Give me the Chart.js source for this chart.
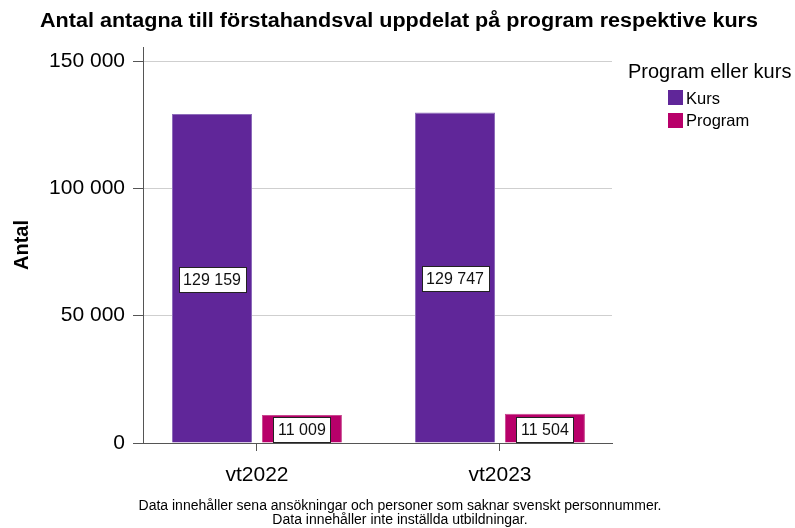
<!DOCTYPE html>
<html>
<head>
<meta charset="utf-8">
<script src="https://cdn.jsdelivr.net/npm/chart.js@4"></script>
<style>
  body { margin: 0; background: #fff; }
  #wrap { width: 795px; height: 528px; position: relative; }
</style>
</head>
<body>
<div id="wrap"><canvas id="myChart" width="795" height="528"></canvas></div>
<script>
const terminer = ['vt2022', 'vt2023'];
const kurs = [129159, 129747];
const program = [11009, 11504];
const yTicks = [0, 50000, 100000, 150000];

const titel = 'Antal antagna till förstahandsval uppdelat på program respektive kurs';
const fotnot = [
    'Data innehåller sena ansökningar och personer som saknar svenskt personnummer.',
    'Data innehåller inte inställda utbildningar.'
];
const legendTitel = 'Program eller kurs';

const FONT = '"Liberation Sans", Arial, sans-serif';

function fmt(v) {
    return String(v).replace(/\B(?=(\d{3})+(?!\d))/g, ' ');
}

// titel, legend, fotnot och etiketter ritas här
const extras = {
    id: 'extras',
    afterDatasetsDraw(chart) {
        const ctx = chart.ctx;
        ctx.save();
        ctx.font = '16px ' + FONT;
        ctx.textAlign = 'center';
        ctx.textBaseline = 'middle';
        chart.data.datasets.forEach((ds, i) => {
            chart.getDatasetMeta(i).data.forEach((bar, j) => {
                const txt = fmt(ds.data[j].y);
                const cx = bar.x;
                const cy = (bar.y + bar.base) / 2 + 1;
                const w = Math.round(ctx.measureText(txt).width + 9);
                const h = 25;
                const x0 = Math.round(cx - w / 2) + 0.5;
                const y0 = Math.round(cy - h / 2) + 0.5;
                ctx.fillStyle = '#fff';
                ctx.fillRect(x0, y0, w, h);
                ctx.strokeStyle = '#222';
                ctx.lineWidth = 1;
                ctx.strokeRect(x0, y0, w, h);
                ctx.fillStyle = '#111';
                ctx.fillText(txt, cx, cy + 1);
            });
        });
        ctx.restore();
    },
    afterDraw(chart) {
        const ctx = chart.ctx;
        ctx.save();
        ctx.fillStyle = '#000';
        ctx.textBaseline = 'middle';
        ctx.textAlign = 'center';
        ctx.font = 'bold 20px ' + FONT;
        const tw = ctx.measureText(titel).width;
        ctx.save();
        ctx.translate(399, 21);
        ctx.scale(718 / tw, 1);
        ctx.fillText(titel, 0, 0);
        ctx.restore();

        ctx.font = '14px ' + FONT;
        ctx.fillText(fotnot[0], 400, 506);
        ctx.fillText(fotnot[1], 400, 520);

        ctx.textAlign = 'left';
        ctx.font = '20px ' + FONT;
        ctx.fillText(legendTitel, 628, 72);
        ctx.font = '16.5px ' + FONT;
        chart.data.datasets.forEach((ds, i) => {
            const y = 90 + i * 22.5;
            ctx.fillStyle = ds.backgroundColor;
            ctx.fillRect(668, Math.round(y), 15, 15);
            ctx.fillStyle = '#000';
            ctx.fillText(ds.label, 686, y + 9);
        });
        ctx.restore();
    }
};

const config = {
    type: 'bar',
    data: {
        datasets: [{
            label: 'Kurs',
            data: kurs.map((v, i) => ({ x: i, y: v })),
            backgroundColor: '#602699',
            borderColor: '#8e6cba',
            borderWidth: 1,
            categoryPercentage: 0.74,
            barPercentage: 0.89
        }, {
            label: 'Program',
            data: program.map((v, i) => ({ x: i, y: v })),
            backgroundColor: '#b8006a',
            borderColor: '#c8478f',
            borderWidth: 1,
            categoryPercentage: 0.74,
            barPercentage: 0.89
        }]
    },
    options: {
        responsive: false,
        animation: false,
        layout: { padding: { top: 47, right: 183, left: 0, bottom: 0 } },
        plugins: {
            legend: { display: false },
            title: { display: false },
            tooltip: { enabled: false }
        },
        scales: {
            x: {
                type: 'linear',
                min: -0.469,
                max: 1.461,
                offset: false,
                afterBuildTicks(s) {
                    s.ticks = terminer.map((t, i) => ({ value: i }));
                },
                grid: {
                    display: true,
                    offset: false,
                    drawOnChartArea: false,
                    tickLength: 8,
                    tickColor: '#555',
                    tickWidth: 1
                },
                border: { color: '#555', width: 1 },
                ticks: {
                    color: '#000',
                    padding: 12,
                    font: { family: FONT, size: 21 },
                    callback: v => terminer[v]
                },
                afterFit(s) { s.height = 85; }
            },
            y: {
                min: 0,
                max: 155500,
                afterBuildTicks(s) {
                    s.ticks = yTicks.map(v => ({ value: v }));
                },
                grid: {
                    color: '#cfcfcf',
                    tickColor: '#555',
                    tickLength: 10,
                    lineWidth: 1
                },
                border: { color: '#555', width: 1 },
                ticks: {
                    color: '#000',
                    padding: 8,
                    font: { family: FONT, size: 21 },
                    callback: v => fmt(v)
                },
                title: {
                    display: true,
                    text: 'Antal',
                    color: '#000',
                    padding: { top: 10, bottom: 0 },
                    font: { family: FONT, size: 20, weight: 'bold' }
                },
                afterFit(s) { s.width = 143; }
            }
        }
    },
    plugins: [extras]
};

const myChart = new Chart(document.getElementById('myChart'), config);
</script>
</body>
</html>
